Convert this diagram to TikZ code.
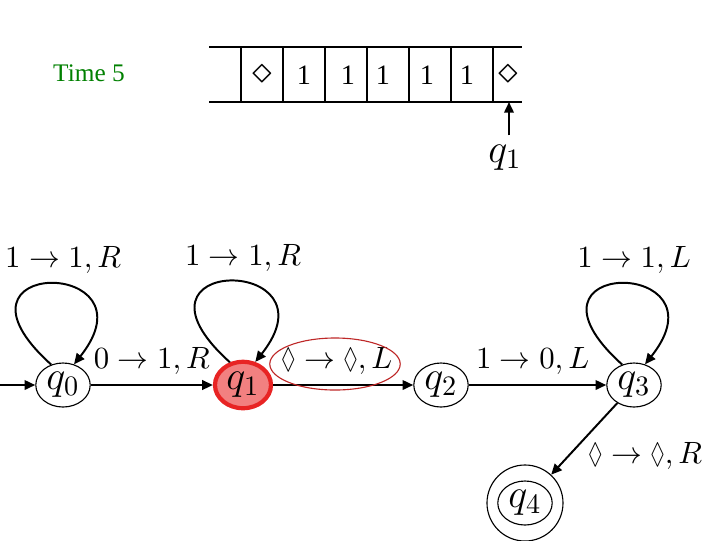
\documentclass[tikz,border=0pt]{standalone}
\usepackage{amsmath,amssymb}
\usepackage{graphicx}
\usepackage{fontspec}
\usepackage{xcolor}
\usepackage{tikz}
\usetikzlibrary{arrows.meta,shapes.geometric}
\newfontfamily\timesfont{Liberation Serif}
\definecolor{timegreen}{RGB}{0,128,0}
\definecolor{hotred}{RGB}{232,36,36}
\definecolor{hotfill}{RGB}{242,128,128}
\definecolor{markred}{RGB}{190,40,40}
\newcommand{\blank}{\mathord{\scalebox{0.7}[0.95]{$\Diamond$}}}
\newcommand{\cellmark}{\scalebox{1.4}{$\diamond$}}
\tikzset{
  state/.style={draw, ellipse, thin, minimum width=0.68cm, minimum height=0.55cm, inner sep=0pt, font=\Large},
  hot/.style={draw=hotred, fill=hotfill, line width=1.5pt, minimum width=0.7cm, minimum height=0.58cm},
  edge/.style={->, line width=0.7pt},
  lbl/.style={font=\fontsize{11}{13}\selectfont},
  looplbl/.style={lbl, midway, above, xshift=0.17cm}
}

\begin{document}
\begin{tikzpicture}[x=0.0125cm, y=-0.0125cm, >={Triangle[length=3.8pt,width=3.4pt]}]
  \useasboundingbox (0,0) rectangle (720,540);
  % tape at time 5
  \node[font=\timesfont\fontsize{9}{11}\selectfont, text=timegreen] (time) at (89,73) {Time 5};
  \draw (209,47) -- (522,47) (209,102) -- (522,102);
  \foreach \x in {241,283,325,367,409,451,493} \draw (\x,47) -- (\x,102);
  \foreach \x/\s [count=\i] in {262/\cellmark, 304/1, 348/1, 383/1, 427/1, 467/1, 508/\cellmark}
    \node[font=\timesfont\fontsize{10}{12}\selectfont] (c\i) at (\x,75) {\s};
  \node[font=\Large] (head) at (505,158) {$q_1$};
  \coordinate (tapepos) at (509,102);
  \draw[edge] (head.north -| tapepos) -- (tapepos);
  % states
  \node[state] (q0) at (63,385) {$q_0$};
  \node[state, hot] (q1) at (243,385) {$q_1$};
  \node[state] (q2) at (441,385) {$q_2$};
  \node[state] (q3) at (634,385) {$q_3$};
  \node[state] (q4) at (525,503) {$q_4$};
  \node[draw, thin, circle, minimum size=0.95cm] (q4ring) at (q4) {};
  \coordinate (entry) at (0,385);
  % transitions
  \draw[edge] (entry) -- (q0);
  \draw[edge] (q0) -- (q1) node[lbl, midway, above] {$0\rightarrow 1,R$};
  \draw[edge] (q1) -- (q2) node[lbl, midway, above, xshift=-0.08cm] (lblL) {$\blank\rightarrow\blank,L$};
  \node[draw=markred, thin, ellipse, minimum width=1.63cm, minimum height=0.65cm] (mark) at (335,364) {};
  \draw[edge] (q2) -- (q3) node[lbl, midway, above, xshift=-0.06cm] {$1\rightarrow 0,L$};
  \draw[edge] (q3) -- (q4ring) node[lbl, midway, anchor=north west, inner sep=1pt] {$\blank\rightarrow\blank,R$};
  \draw[edge] (q0.120) .. controls +(-120,-108) and +(85,-107) .. (q0.62) node[looplbl] {$1\rightarrow 1,R$};
  \draw[edge] (q1.120) .. controls +(-120,-108) and +(85,-107) .. (q1.62) node[looplbl] {$1\rightarrow 1,R$};
  \draw[edge] (q3.120) .. controls +(-120,-108) and +(85,-107) .. (q3.62) node[looplbl] {$1\rightarrow 1,L$};
\end{tikzpicture}
\end{document}
